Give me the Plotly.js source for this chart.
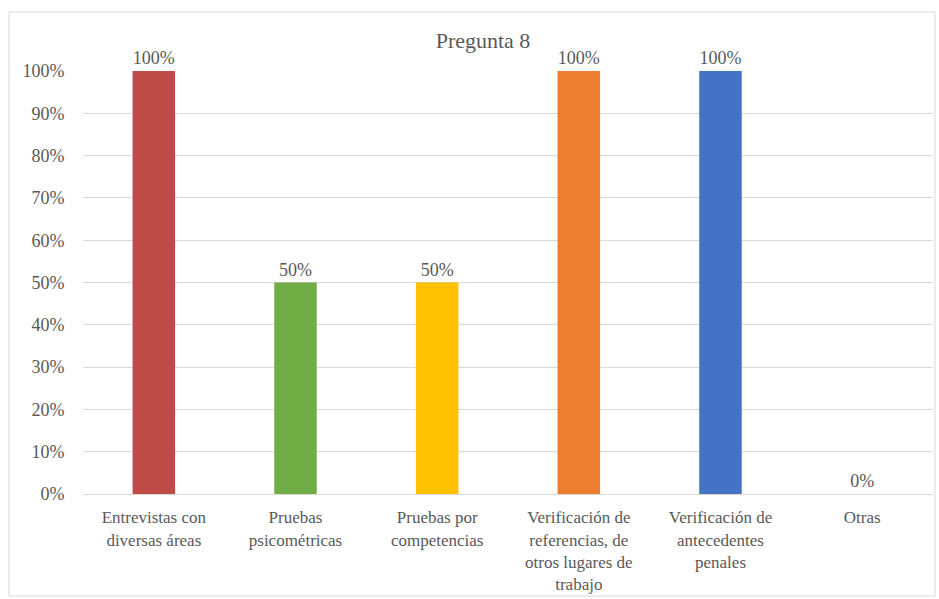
<!DOCTYPE html>
<html>
<head>
<meta charset="utf-8">
<script src="https://cdn.plot.ly/plotly-3.0.1.min.js"></script>
<style>
  html, body { margin: 0; padding: 0; background: #ffffff; }
  #chart { width: 939px; height: 599px; }
</style>
</head>
<body>
<div id="chart"></div>
<script>
// Survey question 8: share of respondents using each selection method
const categories = [
  "Entrevistas con<br>diversas áreas",
  "Pruebas<br>psicométricas",
  "Pruebas por<br>competencias",
  "Verificación de<br>referencias, de<br>otros lugares de<br>trabajo",
  "Verificación de<br>antecedentes<br>penales",
  "Otras"
];
const values = [1.00, 0.50, 0.50, 1.00, 1.00, 0.00];
const barColors = ["#BE4B48", "#70AD47", "#FFC000", "#ED7D31", "#4472C4", "#A5A5A5"];
const yTicks = [0, 0.1, 0.2, 0.3, 0.4, 0.5, 0.6, 0.7, 0.8, 0.9, 1.0];

const W = 939, H = 599;
const margin = { l: 83, r: 6, t: 71, b: 105 };
const plotW = W - margin.l - margin.r;
const plotH = H - margin.t - margin.b;
// outer frame in pixel terms, converted to paper fractions
const px = x => (x - margin.l) / plotW;
const py = y => (H - margin.b - y) / plotH;

const serif = "'Liberation Serif', 'Times New Roman', serif";
const grey = "#595959";
const textFont = { family: serif, size: 17, color: grey };

const trace = {
  type: "bar",
  x: categories.map((c, i) => i),
  y: values,
  marker: { color: barColors },
  width: 0.3,
  text: values.map(v => Math.round(v * 100) + "%"),
  textposition: "outside",
  textfont: { family: serif, size: 18, color: grey },
  cliponaxis: false,
  hoverinfo: "skip"
};

const layout = {
  width: W,
  height: H,
  margin: margin,
  font: { family: serif, color: grey },
  paper_bgcolor: "#ffffff",
  plot_bgcolor: "#ffffff",
  showlegend: false,
  title: {
    text: "Pregunta 8",
    font: { family: serif, size: 22, color: grey },
    x: 483 / W,
    xanchor: "center",
    y: 1 - 40 / H,
    yanchor: "middle"
  },
  xaxis: {
    tickmode: "array",
    tickvals: categories.map((c, i) => i),
    ticktext: categories,
    range: [-0.5, categories.length - 0.5],
    showgrid: false,
    zeroline: false,
    showline: false,
    ticks: "outside",
    ticklen: 8,
    tickcolor: "rgba(0,0,0,0)",
    tickfont: textFont,
    fixedrange: true
  },
  yaxis: {
    range: [0, 1],
    tickmode: "array",
    tickvals: yTicks,
    tickformat: ".0%",
    showgrid: true,
    gridcolor: "#d9d9d9",
    gridwidth: 1,
    zeroline: true,
    zerolinecolor: "#d9d9d9",
    zerolinewidth: 1,
    showline: false,
    ticks: "outside",
    ticklen: 14,
    tickcolor: "rgba(0,0,0,0)",
    tickfont: { family: serif, size: 18, color: grey },
    fixedrange: true
  },
  shapes: [{
    type: "rect",
    xref: "paper", yref: "paper",
    x0: px(9), x1: px(935),
    y0: py(596), y1: py(12),
    line: { color: "#d9d9d9", width: 1 },
    fillcolor: "rgba(0,0,0,0)",
    layer: "below"
  }]
};

Plotly.newPlot("chart", [trace], layout, { displayModeBar: false, staticPlot: true });
</script>
</body>
</html>
